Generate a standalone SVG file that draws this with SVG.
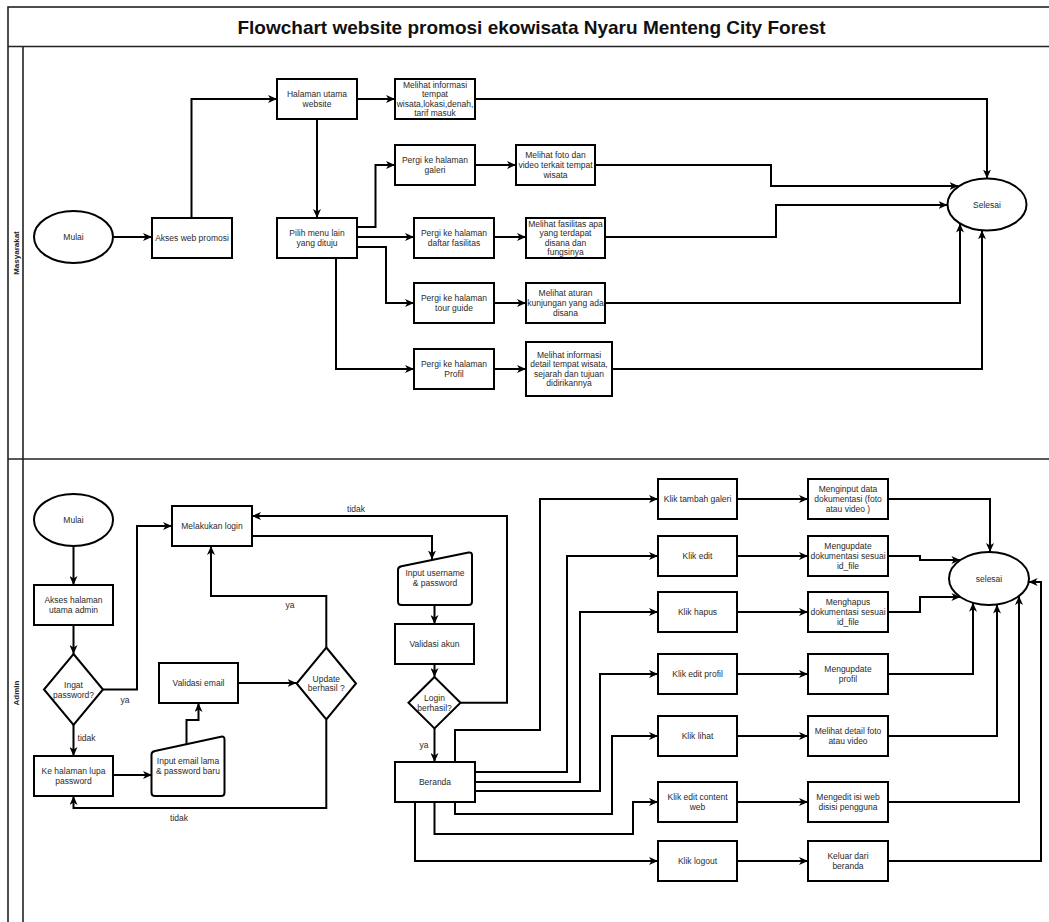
<svg xmlns="http://www.w3.org/2000/svg" width="1049" height="922" viewBox="0 0 1049 922">
<style>
.frame{fill:none;stroke:#222;stroke-width:1.6}
.n{fill:#fff;stroke:#000;stroke-width:2}
.c{fill:none;stroke:#000;stroke-width:2}
.t{font-family:"Liberation Sans",Arial,sans-serif;font-size:8.5px;fill:#2a2a2a;text-anchor:middle}
.lane{font-family:"Liberation Sans",Arial,sans-serif;font-size:8px;font-weight:bold;fill:#222;text-anchor:middle}
.title{font-family:"Liberation Sans",Arial,sans-serif;font-size:19px;font-weight:bold;fill:#111;text-anchor:middle}
</style>
<defs>
<marker id="arr" markerWidth="10" markerHeight="8" refX="9" refY="4" orient="auto" markerUnits="userSpaceOnUse">
<path d="M0,0 L9,4 L0,8 L2.5,4 Z" fill="#000"/>
</marker>
</defs>
<rect width="1049" height="922" fill="#fff"/>
<g id="frame">
<rect class="frame" x="8" y="7" width="1070" height="940"/>
<line class="frame" x1="8" y1="46.5" x2="1049" y2="46.5"/>
<line class="frame" x1="23" y1="46.5" x2="23" y2="922"/>
<line class="frame" x1="8" y1="459" x2="1049" y2="459"/>
<text class="title" x="531.5" y="33.5">Flowchart website promosi ekowisata Nyaru Menteng City Forest</text>
<text class="lane" transform="translate(18.5,253) rotate(-90)">Masyarakat</text>
<text class="lane" transform="translate(18.5,693) rotate(-90)">Admin</text>
</g>
<g id="connectors">
<path class="c" marker-end="url(#arr)" d="M113,237 H152"/>
<path class="c" marker-end="url(#arr)" d="M191.5,218 V99 H277"/>
<path class="c" marker-end="url(#arr)" d="M357,99 H395"/>
<path class="c" marker-end="url(#arr)" d="M475,99 H987 V178.5"/>
<path class="c" marker-end="url(#arr)" d="M317,119 V218"/>
<path class="c" marker-end="url(#arr)" d="M357,227 H375.5 V165 H395"/>
<path class="c" marker-end="url(#arr)" d="M475,165 H516"/>
<path class="c" marker-end="url(#arr)" d="M595,165 H771 V186 H958.5"/>
<path class="c" marker-end="url(#arr)" d="M357,237 H414"/>
<path class="c" marker-end="url(#arr)" d="M494,237 H526"/>
<path class="c" marker-end="url(#arr)" d="M605,237 H776 V205 H947.5"/>
<path class="c" marker-end="url(#arr)" d="M357,247 H386 V303 H414"/>
<path class="c" marker-end="url(#arr)" d="M494,303 H526"/>
<path class="c" marker-end="url(#arr)" d="M605,303 H960 V223.5"/>
<path class="c" marker-end="url(#arr)" d="M336,258 V369 H414"/>
<path class="c" marker-end="url(#arr)" d="M494,369 H526"/>
<path class="c" marker-end="url(#arr)" d="M612,369 H982 V230.3"/>

<path class="c" marker-end="url(#arr)" d="M73.5,546 V585"/>
<path class="c" marker-end="url(#arr)" d="M73.5,625 V654"/>
<path class="c" marker-end="url(#arr)" d="M103,689.5 H137 V526 H172"/>
<path class="c" marker-end="url(#arr)" d="M73.5,725 V756"/>
<path class="c" marker-end="url(#arr)" d="M113,775 H152"/>
<path class="c" marker-end="url(#arr)" d="M186.5,744 V720 H198.5 V703"/>
<path class="c" marker-end="url(#arr)" d="M238,683 H296.6"/>
<path class="c" marker-end="url(#arr)" d="M326.3,647.5 V596 H211 V546"/>
<path class="c" marker-end="url(#arr)" d="M326.3,719.5 V808 H73.5 V796"/>
<path class="c" marker-end="url(#arr)" d="M252,536 H432 V559.5"/>
<path class="c" marker-end="url(#arr)" d="M434.5,605 V624"/>
<path class="c" marker-end="url(#arr)" d="M434.5,664 V677"/>
<path class="c" marker-end="url(#arr)" d="M460.5,702.7 H507 V516 H252"/>
<path class="c" marker-end="url(#arr)" d="M434.5,728.4 V762"/>

<path class="c" marker-end="url(#arr)" d="M455,762 V730 H540 V499 H658"/>
<path class="c" marker-end="url(#arr)" d="M475,772 H567 V556 H658"/>
<path class="c" marker-end="url(#arr)" d="M475,782 H580 V612 H658"/>
<path class="c" marker-end="url(#arr)" d="M475,791 H600 V674 H658"/>
<path class="c" marker-end="url(#arr)" d="M455,802 V814 H612 V736 H658"/>
<path class="c" marker-end="url(#arr)" d="M434.5,802 V834 H633 V802 H658"/>
<path class="c" marker-end="url(#arr)" d="M415,802 V861 H658"/>

<path class="c" marker-end="url(#arr)" d="M737,499 H808"/>
<path class="c" marker-end="url(#arr)" d="M737,556 H808"/>
<path class="c" marker-end="url(#arr)" d="M737,612 H808"/>
<path class="c" marker-end="url(#arr)" d="M737,674 H808"/>
<path class="c" marker-end="url(#arr)" d="M737,736 H808"/>
<path class="c" marker-end="url(#arr)" d="M737,802 H808"/>
<path class="c" marker-end="url(#arr)" d="M737,861 H808"/>

<path class="c" marker-end="url(#arr)" d="M888,499 H990 V552"/>
<path class="c" marker-end="url(#arr)" d="M888,556 H920 V560 H960.4"/>
<path class="c" marker-end="url(#arr)" d="M888,612 H920 V597 H960.4"/>
<path class="c" marker-end="url(#arr)" d="M888,674 H973 V602.8"/>
<path class="c" marker-end="url(#arr)" d="M888,736 H997 V604.5"/>
<path class="c" marker-end="url(#arr)" d="M888,802 H1019 V596"/>
<path class="c" marker-end="url(#arr)" d="M888,861 H1041 V582 H1028.6"/>

<text class="t" x="125" y="702.5">ya</text>
<text class="t" x="86.5" y="741">tidak</text>
<text class="t" x="356" y="512">tidak</text>
<text class="t" x="290" y="608">ya</text>
<text class="t" x="179" y="820.5">tidak</text>
<text class="t" x="424" y="748">ya</text>
</g>

<g id="mulai1"><ellipse class="n" cx="73.5" cy="237" rx="39.5" ry="26"/><text class="t" x="73.5" y="240">Mulai</text></g>
<g id="akses-web"><rect class="n" x="152" y="218" width="80" height="40"/><text class="t" x="192" y="241">Akses web promosi</text></g>
<g id="halaman-utama"><rect class="n" x="277" y="79" width="80" height="40"/><text class="t" x="317" y="97.1">Halaman utama<tspan x="317" dy="9.6">website</tspan></text></g>
<g id="melihat-info"><rect class="n" x="395" y="79" width="80" height="40"/><text class="t" x="435" y="87.5">Melihat informasi<tspan x="435" dy="9.6">tempat</tspan><tspan x="435" dy="9.6">wisata,lokasi,denah,</tspan><tspan x="435" dy="9.6">tarif masuk</tspan></text></g>
<g id="pilih-menu"><rect class="n" x="277" y="218" width="80" height="40"/><text class="t" x="317" y="236.1">Pilih menu lain<tspan x="317" dy="9.6">yang dituju</tspan></text></g>
<g id="pergi-galeri"><rect class="n" x="395" y="145" width="80" height="40"/><text class="t" x="435" y="163.1">Pergi ke halaman<tspan x="435" dy="9.6">galeri</tspan></text></g>
<g id="melihat-foto"><rect class="n" x="516" y="145" width="79" height="40"/><text class="t" x="555.5" y="158.3">Melihat foto dan<tspan x="555.5" dy="9.6">video terkait tempat</tspan><tspan x="555.5" dy="9.6">wisata</tspan></text></g>
<g id="pergi-fasilitas"><rect class="n" x="414" y="218" width="80" height="40"/><text class="t" x="454" y="236.1">Pergi ke halaman<tspan x="454" dy="9.6">daftar fasilitas</tspan></text></g>
<g id="melihat-fasilitas"><rect class="n" x="526" y="218" width="79" height="40"/><text class="t" x="565.5" y="226.5">Melihat fasilitas apa<tspan x="565.5" dy="9.6">yang terdapat</tspan><tspan x="565.5" dy="9.6">disana dan</tspan><tspan x="565.5" dy="9.6">fungsinya</tspan></text></g>
<g id="pergi-tour"><rect class="n" x="414" y="283" width="80" height="40"/><text class="t" x="454" y="301.1">Pergi ke halaman<tspan x="454" dy="9.6">tour guide</tspan></text></g>
<g id="melihat-aturan"><rect class="n" x="526" y="283" width="79" height="40"/><text class="t" x="565.5" y="296.3">Melihat aturan<tspan x="565.5" dy="9.6">kunjungan yang ada</tspan><tspan x="565.5" dy="9.6">disana</tspan></text></g>
<g id="pergi-profil"><rect class="n" x="414" y="349" width="80" height="40"/><text class="t" x="454" y="367.1">Pergi ke halaman<tspan x="454" dy="9.6">Profil</tspan></text></g>
<g id="melihat-detail-wisata"><rect class="n" x="526" y="342" width="86" height="54"/><text class="t" x="569" y="357.5">Melihat informasi<tspan x="569" dy="9.6">detail tempat wisata,</tspan><tspan x="569" dy="9.6">sejarah dan tujuan</tspan><tspan x="569" dy="9.6">didirikannya</tspan></text></g>
<g id="selesai1"><ellipse class="n" cx="987" cy="204.5" rx="39.5" ry="26"/><text class="t" x="987" y="207.5">Selesai</text></g>

<g id="mulai2"><ellipse class="n" cx="73.5" cy="520" rx="39.5" ry="26"/><text class="t" x="73.5" y="523">Mulai</text></g>
<g id="akses-admin"><rect class="n" x="34" y="585" width="79" height="40"/><text class="t" x="73.5" y="603.1">Akses halaman<tspan x="73.5" dy="9.6">utama admin</tspan></text></g>
<g id="ingat-password"><path class="n" d="M73.5,654 L103,689.5 L73.5,725 L44,689.5 Z"/><text class="t" x="73.5" y="688">Ingat<tspan x="73.5" dy="9.6">password?</tspan></text></g>
<g id="melakukan-login"><rect class="n" x="172" y="506" width="80" height="40"/><text class="t" x="212" y="529">Melakukan login</text></g>
<g id="validasi-email"><rect class="n" x="159" y="663" width="79" height="40"/><text class="t" x="198.5" y="686">Validasi email</text></g>
<g id="update-berhasil"><path class="n" d="M326.3,647.5 L356,683.5 L326.3,719.5 L296.6,683.5 Z"/><text class="t" x="326.3" y="681.6">Update<tspan x="326.3" dy="9.6">berhasil ?</tspan></text></g>
<g id="lupa-password"><rect class="n" x="34" y="756" width="79" height="40"/><text class="t" x="73.5" y="774.1">Ke halaman lupa<tspan x="73.5" dy="9.6">password</tspan></text></g>
<g id="input-email"><path class="n" stroke-linejoin="round" d="M155,751 L221,736.7 Q224.5,736 224.5,739.5 L224.5,792.5 Q224.5,796 221,796 L155,796 Q151.5,796 151.5,792.5 L151.5,754.5 Q151.5,751.7 155,751 Z"/><text class="t" x="188" y="763.9">Input email lama<tspan x="188" dy="9.6">&amp; password baru</tspan></text></g>
<g id="input-username"><path class="n" stroke-linejoin="round" d="M401.5,566.3 L468.5,552.5 Q472,551.8 472,555.3 L472,601.5 Q472,605 468.5,605 L401.5,605 Q398,605 398,601.5 L398,569.8 Q398,567 401.5,566.3 Z"/><text class="t" x="435" y="576.2">Input username<tspan x="435" dy="9.6">&amp; password</tspan></text></g>
<g id="validasi-akun"><rect class="n" x="395" y="624" width="79" height="40"/><text class="t" x="434.5" y="647">Validasi akun</text></g>
<g id="login-berhasil"><path class="n" d="M434.5,677 L460.5,702.7 L434.5,728.4 L408.5,702.7 Z"/><text class="t" x="434.5" y="701">Login<tspan x="434.5" dy="9.6">berhasil?</tspan></text></g>
<g id="beranda"><rect class="n" x="395" y="762" width="80" height="40"/><text class="t" x="435" y="785">Beranda</text></g>
<g id="klik-tambah"><rect class="n" x="658" y="479" width="79" height="40"/><text class="t" x="697.5" y="502">Klik tambah galeri</text></g>
<g id="menginput"><rect class="n" x="808" y="479" width="80" height="40"/><text class="t" x="848" y="492.3">Menginput data<tspan x="848" dy="9.6">dokumentasi (foto</tspan><tspan x="848" dy="9.6">atau video )</tspan></text></g>
<g id="klik-edit"><rect class="n" x="658" y="536" width="79" height="40"/><text class="t" x="697.5" y="559">Klik edit</text></g>
<g id="mengupdate-dok"><rect class="n" x="808" y="536" width="80" height="40"/><text class="t" x="848" y="549.3">Mengupdate<tspan x="848" dy="9.6">dokumentasi sesuai</tspan><tspan x="848" dy="9.6">id_file</tspan></text></g>
<g id="klik-hapus"><rect class="n" x="658" y="592" width="79" height="40"/><text class="t" x="697.5" y="615">Klik hapus</text></g>
<g id="menghapus"><rect class="n" x="808" y="592" width="80" height="40"/><text class="t" x="848" y="605.3">Menghapus<tspan x="848" dy="9.6">dokumentasi sesuai</tspan><tspan x="848" dy="9.6">id_file</tspan></text></g>
<g id="klik-edit-profil"><rect class="n" x="658" y="654" width="79" height="40"/><text class="t" x="697.5" y="677">Klik edit profil</text></g>
<g id="mengupdate-profil"><rect class="n" x="808" y="654" width="80" height="40"/><text class="t" x="848" y="672.1">Mengupdate<tspan x="848" dy="9.6">profil</tspan></text></g>
<g id="klik-lihat"><rect class="n" x="658" y="716" width="79" height="40"/><text class="t" x="697.5" y="739">Klik lihat</text></g>
<g id="melihat-detail-foto"><rect class="n" x="808" y="716" width="80" height="40"/><text class="t" x="848" y="734.1">Melihat detail foto<tspan x="848" dy="9.6">atau video</tspan></text></g>
<g id="klik-content"><rect class="n" x="658" y="782" width="79" height="40"/><text class="t" x="697.5" y="800.1">Klik edit content<tspan x="697.5" dy="9.6">web</tspan></text></g>
<g id="mengedit"><rect class="n" x="808" y="782" width="80" height="40"/><text class="t" x="848" y="800.1">Mengedit isi web<tspan x="848" dy="9.6">disisi pengguna</tspan></text></g>
<g id="klik-logout"><rect class="n" x="658" y="841" width="79" height="40"/><text class="t" x="697.5" y="864">Klik logout</text></g>
<g id="keluar"><rect class="n" x="808" y="841" width="80" height="40"/><text class="t" x="848" y="859.1">Keluar dari<tspan x="848" dy="9.6">beranda</tspan></text></g>
<g id="selesai2"><ellipse class="n" cx="989" cy="578.5" rx="40" ry="26.5"/><text class="t" x="989" y="581.5">selesai</text></g>
</svg>
